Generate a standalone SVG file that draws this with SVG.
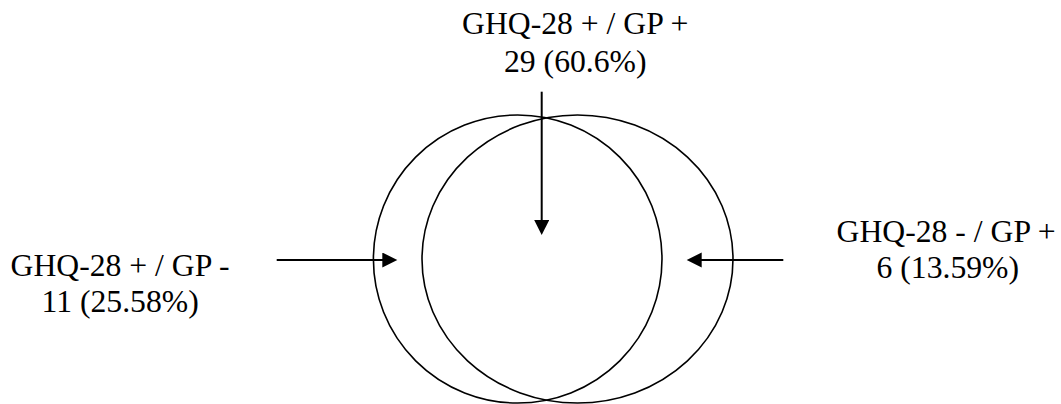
<svg xmlns="http://www.w3.org/2000/svg" width="1061" height="404" viewBox="0 0 1061 404">
  <style>
    .lbl { font-family: "Liberation Serif", "Times New Roman", serif; font-size: 31.7px; fill: #000; }
    .circ { fill: none; stroke: #000; stroke-width: 1.6; }
    .arr { stroke: #000; stroke-width: 2; fill: none; }
  </style>
  <defs>
    <marker id="ah" markerUnits="userSpaceOnUse" markerWidth="16" markerHeight="16" refX="5" refY="7.5" orient="auto">
      <path d="M0,0 L15,7.5 L0,15 z" fill="#000"/>
    </marker>
  </defs>
  <rect width="1061" height="404" fill="#fff"/>
  <g id="set-ghq">
    <ellipse class="circ" cx="517.7" cy="259" rx="144.3" ry="144"/>
  </g>
  <g id="set-gp">
    <ellipse class="circ" cx="577.5" cy="259" rx="155.5" ry="144"/>
  </g>
  <g id="label-top">
    <text class="lbl" x="462" y="34">GHQ-28 + / GP +</text>
    <text class="lbl" x="504" y="72">29 (60.6%)</text>
  </g>
  <g id="label-left">
    <text class="lbl" x="10.5" y="276">GHQ-28 + / GP -</text>
    <text class="lbl" x="41.5" y="312">11 (25.58%)</text>
  </g>
  <g id="label-right">
    <text class="lbl" x="836.5" y="242">GHQ-28 - / GP +</text>
    <text class="lbl" x="876.5" y="278">6 (13.59%)</text>
  </g>
  <g id="connectors">
    <line class="arr" x1="541.7" y1="91.7" x2="541.7" y2="225" marker-end="url(#ah)"/>
    <line class="arr" x1="276.7" y1="260" x2="387.3" y2="260" marker-end="url(#ah)"/>
    <line class="arr" x1="783.3" y1="260" x2="696.7" y2="260" marker-end="url(#ah)"/>
  </g>
</svg>
